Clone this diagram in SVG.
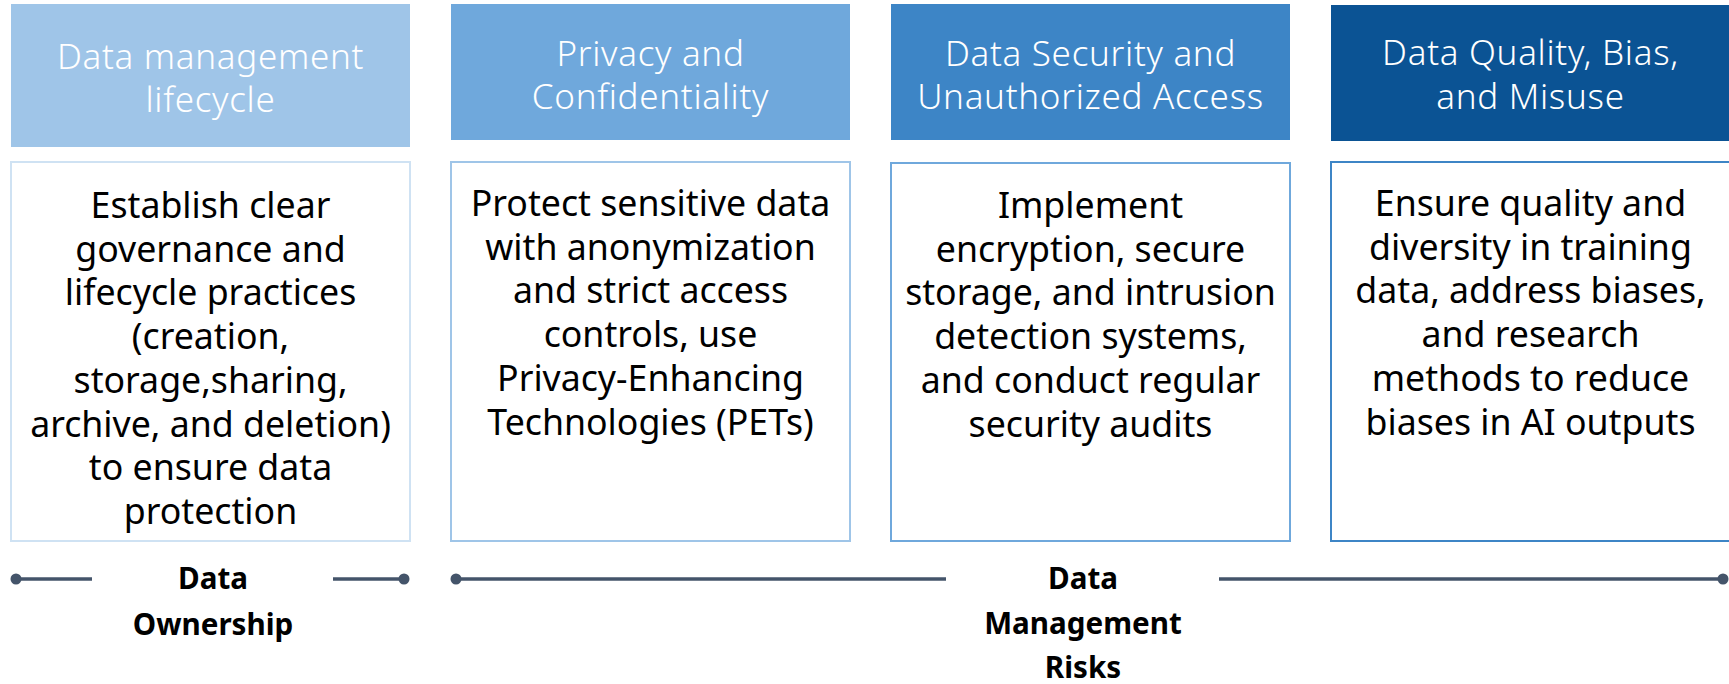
<svg xmlns="http://www.w3.org/2000/svg" width="1729" height="684" viewBox="0 0 1729 684">
<style>
.hd{font-family:"Noto Sans","Open Sans",sans-serif;font-weight:300;font-size:35px;letter-spacing:0.7px;fill:#ffffff;text-anchor:middle}
.bd{font-family:"Noto Sans","Open Sans",sans-serif;font-size:35.7px;fill:#000000;text-anchor:middle}
.lb{font-family:"Noto Sans","Open Sans",sans-serif;font-weight:700;font-size:29.6px;fill:#000000;text-anchor:middle}
.box{fill:#ffffff;stroke-width:2}
.ln{stroke:#44546a;stroke-width:3.5;fill:none}
.dot{fill:#44546a}
</style>
<rect width="1729" height="684" fill="#ffffff"/>
<g id="node-lifecycle">
<rect x="11" y="4" width="399" height="143" fill="#9fc5e8"/>
<text class="hd" x="210.5" y="69"><tspan x="210.5">Data management</tspan><tspan x="210.5" dy="43">lifecycle</tspan></text>
<rect class="box" x="11" y="162" width="399" height="379" stroke="#cfe2f3"/>
<text class="bd" x="210.5" y="218"><tspan x="210.5">Establish clear</tspan><tspan x="210.5" dy="43.7">governance and</tspan><tspan x="210.5" dy="43.7">lifecycle practices</tspan><tspan x="210.5" dy="43.7">(creation,</tspan><tspan x="210.5" dy="43.7">storage,sharing,</tspan><tspan x="210.5" dy="43.7">archive, and deletion)</tspan><tspan x="210.5" dy="43.7">to ensure data</tspan><tspan x="210.5" dy="43.7">protection</tspan></text>
</g>
<g id="node-privacy">
<rect x="451" y="4" width="399" height="136" fill="#6fa8dc"/>
<text class="hd" x="650.5" y="66"><tspan x="650.5">Privacy and</tspan><tspan x="650.5" dy="43">Confidentiality</tspan></text>
<rect class="box" x="451" y="162" width="399" height="379" stroke="#9fc5e8"/>
<text class="bd" x="650.5" y="216"><tspan x="650.5">Protect sensitive data</tspan><tspan x="650.5" dy="43.7">with anonymization</tspan><tspan x="650.5" dy="43.7">and strict access</tspan><tspan x="650.5" dy="43.7">controls, use</tspan><tspan x="650.5" dy="43.7">Privacy-Enhancing</tspan><tspan x="650.5" dy="43.7">Technologies (PETs)</tspan></text>
</g>
<g id="node-security">
<rect x="891" y="4" width="399" height="136" fill="#3d85c6"/>
<text class="hd" x="1090.5" y="66"><tspan x="1090.5">Data Security and</tspan><tspan x="1090.5" dy="43">Unauthorized Access</tspan></text>
<rect class="box" x="891" y="163" width="399" height="378" stroke="#6fa8dc"/>
<text class="bd" x="1090.5" y="218"><tspan x="1090.5">Implement</tspan><tspan x="1090.5" dy="43.7">encryption, secure</tspan><tspan x="1090.5" dy="43.7">storage, and intrusion</tspan><tspan x="1090.5" dy="43.7">detection systems,</tspan><tspan x="1090.5" dy="43.7">and conduct regular</tspan><tspan x="1090.5" dy="43.7">security audits</tspan></text>
</g>
<g id="node-quality">
<rect x="1331" y="5" width="399" height="136" fill="#0b5394"/>
<text class="hd" x="1530.5" y="65"><tspan x="1530.5">Data Quality, Bias,</tspan><tspan x="1530.5" dy="44">and Misuse</tspan></text>
<rect class="box" x="1331" y="162" width="399" height="379" stroke="#3d85c6"/>
<text class="bd" x="1530.5" y="216"><tspan x="1530.5">Ensure quality and</tspan><tspan x="1530.5" dy="43.7">diversity in training</tspan><tspan x="1530.5" dy="43.7">data, address biases,</tspan><tspan x="1530.5" dy="43.7">and research</tspan><tspan x="1530.5" dy="43.7">methods to reduce</tspan><tspan x="1530.5" dy="43.7">biases in AI outputs</tspan></text>
</g>
<g id="connectors">
<line class="ln" x1="16" y1="579" x2="92" y2="579"/>
<circle class="dot" cx="16" cy="579" r="5.5"/>
<line class="ln" x1="333" y1="579" x2="404" y2="579"/>
<circle class="dot" cx="404" cy="579" r="5.5"/>
<line class="ln" x1="456" y1="579" x2="946" y2="579"/>
<circle class="dot" cx="456" cy="579" r="5.5"/>
<line class="ln" x1="1219" y1="579" x2="1723" y2="579"/>
<circle class="dot" cx="1723" cy="579" r="5.5"/>
</g>
<g id="label-ownership">
<text class="lb" x="213" y="589"><tspan x="213">Data</tspan><tspan x="213" dy="46">Ownership</tspan></text>
</g>
<g id="label-risks">
<text class="lb" x="1083" y="589"><tspan x="1083">Data</tspan><tspan x="1083" dy="45">Management</tspan><tspan x="1083" dy="44">Risks</tspan></text>
</g>
</svg>
